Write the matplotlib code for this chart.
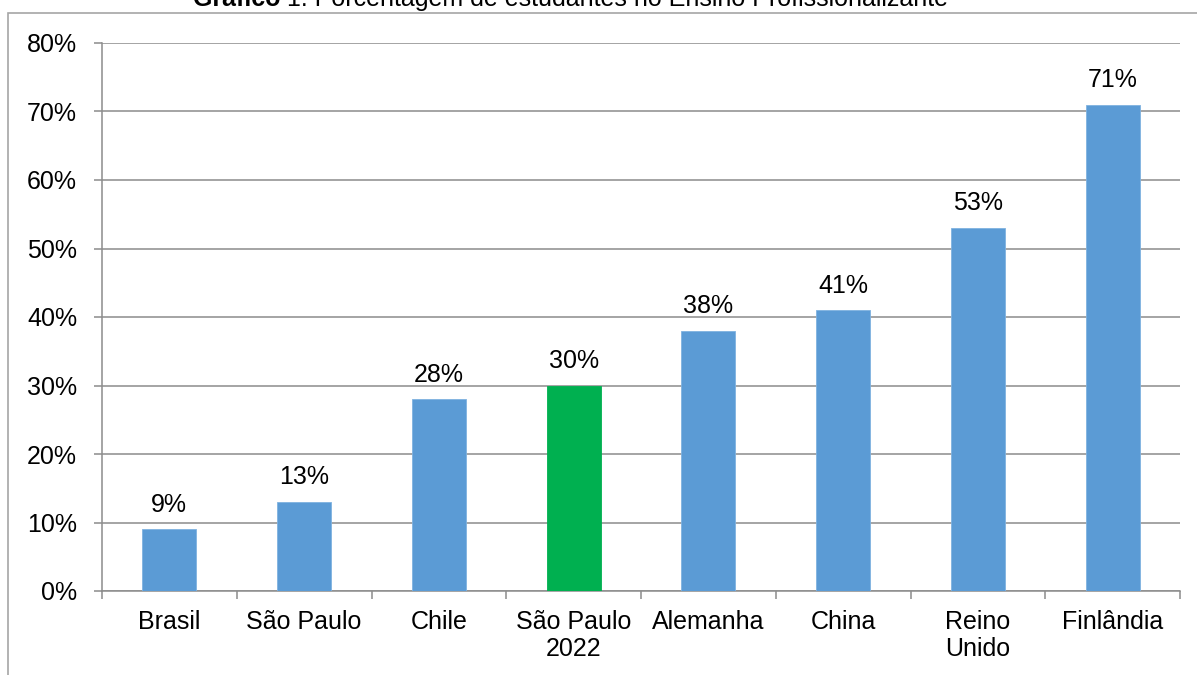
import matplotlib.pyplot as plt
from matplotlib.patches import Rectangle
from matplotlib.ticker import FixedLocator, FuncFormatter

plt.rcParams["font.family"] = ["Liberation Sans", "DejaVu Sans"]

# Data
categories = ["Brasil", "São Paulo", "Chile", "São Paulo\n2022", "Alemanha",
              "China", "Reino\nUnido", "Finlândia"]
values = [9, 13, 28, 30, 38, 41, 53, 71]
highlight = "São Paulo\n2022"
y_ticks = [0, 10, 20, 30, 40, 50, 60, 70, 80]

blue = "#5B9BD5"
green = "#00B050"
grid_gray = "#8C8C8C"

fig = plt.figure(figsize=(11.97, 6.75), dpi=100)
ax = fig.add_axes([102 / 1197, 1 - 591 / 675, (1180 - 102) / 1197, (591 - 43) / 675])

# outer chart frame (partly cut off like the source)
fig.patches.append(Rectangle((8 / 1197, -0.2), 1.2, 1 - 13 / 675 + 0.2,
                             transform=fig.transFigure, fill=False,
                             edgecolor="#A6A6A6", linewidth=1.2, zorder=0))

x = range(len(categories))
colors = [green if c == highlight else blue for c in categories]
bars = ax.bar(x, values, width=0.4, color=colors, edgecolor="#7FB2E0",
              linewidth=0.6, zorder=3)
for b, c in zip(bars, categories):
    if c == highlight:
        b.set_edgecolor(green)

for xi, v in zip(x, values):
    ax.annotate(f"{v}%", (xi, v), xytext=(0, 9), textcoords="offset points",
                ha="center", va="bottom", fontsize=18)

ax.set_xlim(-0.5, len(categories) - 0.5)
ax.set_ylim(0, 80)
ax.set_yticks(y_ticks)
ax.yaxis.set_major_formatter(FuncFormatter(lambda v, p: f"{v:.0f}%"))
ax.yaxis.grid(True, color=grid_gray, linewidth=1.1, zorder=0)
ax.set_axisbelow(True)

ax.set_xticks(list(x))
ax.set_xticklabels(categories, fontsize=18, linespacing=1.15)
ax.xaxis.set_minor_locator(FixedLocator([i - 0.5 for i in range(len(categories) + 1)]))
ax.tick_params(axis="x", which="major", length=0, pad=14)
ax.tick_params(axis="x", which="minor", length=6, width=1.1, color=grid_gray,
               direction="out")
ax.tick_params(axis="y", length=6, width=1.1, color=grid_gray, labelsize=18, pad=12)

for side in ["top", "right"]:
    ax.spines[side].set_visible(False)
for side in ["left", "bottom"]:
    ax.spines[side].set_color(grid_gray)
    ax.spines[side].set_linewidth(1.1)

# title, cut off at the top like the source
t1 = fig.text(193 / 1197, 1 - 6 / 675, "Gráfico", fontsize=18, fontweight="bold",
              ha="left", va="baseline")
t2 = ax.annotate(" 1: Porcentagem de estudantes no Ensino Profissionalizante",
                 xy=(1, 0), xycoords=t1, fontsize=18, va="bottom", ha="left",
                 annotation_clip=False)

fig.savefig("out.png", dpi=100)
